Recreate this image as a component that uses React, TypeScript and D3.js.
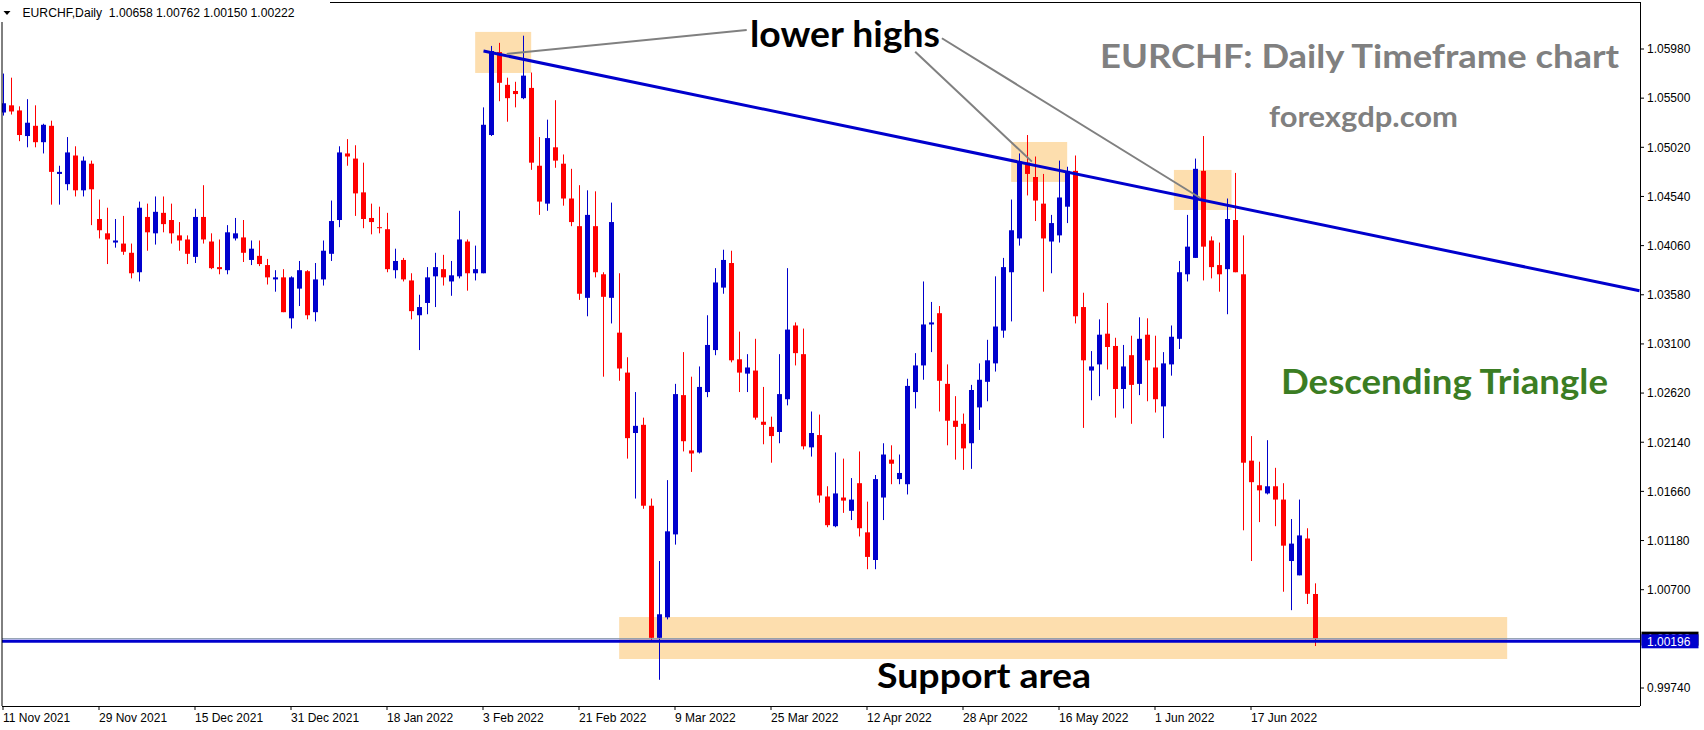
import * as d3 from 'd3';

// daily EURCHF bars, [open, high, low, close], first bar = 11 Nov 2021
const candles: [number, number, number, number][] = [
  [1.0536, 1.0574, 1.0533, 1.0545], [1.0543, 1.057, 1.0534, 1.0537], [1.0538, 1.0542, 1.0508, 1.0514],
  [1.0513, 1.0549, 1.0502, 1.0526], [1.0523, 1.0543, 1.0502, 1.0507], [1.0507, 1.0525, 1.0496, 1.0524],
  [1.0523, 1.0528, 1.0446, 1.0478], [1.0476, 1.0484, 1.0446, 1.0478], [1.0466, 1.0512, 1.046, 1.0497],
  [1.0494, 1.0503, 1.0454, 1.046], [1.046, 1.0493, 1.0454, 1.0489], [1.0486, 1.0489, 1.0426, 1.0461],
  [1.0432, 1.0451, 1.0413, 1.0421], [1.0418, 1.0443, 1.0388, 1.0412], [1.0409, 1.0432, 1.0404, 1.0411],
  [1.0408, 1.0435, 1.0397, 1.04], [1.0399, 1.0408, 1.0374, 1.0379], [1.038, 1.0449, 1.0371, 1.0443],
  [1.0434, 1.0447, 1.0401, 1.0419], [1.0418, 1.0454, 1.0407, 1.0439], [1.0438, 1.0454, 1.0419, 1.0427],
  [1.0431, 1.0447, 1.0408, 1.0418], [1.0416, 1.0429, 1.0401, 1.0411], [1.0412, 1.0416, 1.0388, 1.0398],
  [1.0395, 1.0442, 1.0389, 1.0434], [1.0434, 1.0465, 1.0408, 1.0412], [1.041, 1.0418, 1.0383, 1.0384],
  [1.0385, 1.0412, 1.0378, 1.0383], [1.0382, 1.0426, 1.0378, 1.0419], [1.0413, 1.0433, 1.0411, 1.0418],
  [1.0414, 1.0431, 1.039, 1.0399], [1.0392, 1.0411, 1.0387, 1.0403], [1.0396, 1.0411, 1.0386, 1.0388],
  [1.0387, 1.0393, 1.0368, 1.0375], [1.0373, 1.0382, 1.0361, 1.0375], [1.0375, 1.0383, 1.0341, 1.0341],
  [1.0335, 1.0376, 1.0325, 1.0375], [1.0364, 1.0391, 1.0347, 1.0382], [1.0381, 1.0382, 1.0334, 1.0338],
  [1.0341, 1.0389, 1.0332, 1.0373], [1.0373, 1.0411, 1.0367, 1.0401], [1.0398, 1.045, 1.0391, 1.043],
  [1.0431, 1.0503, 1.0424, 1.0497], [1.0496, 1.051, 1.0484, 1.0493], [1.0491, 1.0504, 1.0435, 1.0457],
  [1.0458, 1.0487, 1.0423, 1.0432], [1.0433, 1.0447, 1.0417, 1.0429], [1.0424, 1.0444, 1.0418, 1.0423],
  [1.0422, 1.0438, 1.038, 1.0383], [1.0382, 1.0403, 1.0374, 1.0391], [1.0392, 1.0394, 1.0371, 1.0373],
  [1.0372, 1.0379, 1.0334, 1.0342], [1.0338, 1.0358, 1.0304, 1.0346], [1.035, 1.0385, 1.0339, 1.0375],
  [1.0376, 1.0399, 1.0346, 1.0385], [1.0383, 1.0397, 1.0367, 1.0375], [1.0371, 1.0391, 1.0357, 1.0377],
  [1.0376, 1.044, 1.0374, 1.0412], [1.041, 1.0412, 1.0362, 1.0379], [1.0379, 1.0406, 1.0372, 1.0383],
  [1.0379, 1.0541, 1.0379, 1.0524], [1.0514, 1.0601, 1.0513, 1.0596], [1.0595, 1.0604, 1.0547, 1.0565],
  [1.0563, 1.057, 1.0527, 1.055], [1.0557, 1.0566, 1.0541, 1.0554], [1.055, 1.0611, 1.0549, 1.0572],
  [1.056, 1.0575, 1.048, 1.0487], [1.0484, 1.0512, 1.0436, 1.0449], [1.0447, 1.0529, 1.044, 1.0511],
  [1.0502, 1.0548, 1.0482, 1.0489], [1.0486, 1.0495, 1.0445, 1.0452], [1.0452, 1.0481, 1.0425, 1.0429],
  [1.0425, 1.0465, 1.0353, 1.0359], [1.0355, 1.046, 1.0337, 1.0436], [1.0425, 1.0459, 1.0375, 1.038],
  [1.0378, 1.038, 1.0278, 1.0356], [1.0355, 1.0448, 1.033, 1.0429], [1.0321, 1.0379, 1.0274, 1.0286],
  [1.0282, 1.0297, 1.0198, 1.0218], [1.0223, 1.0263, 1.0159, 1.023], [1.0231, 1.0238, 1.0149, 1.0152],
  [1.0152, 1.0159, 1.0021, 1.0023], [1.0023, 1.0098, 0.9982, 1.0046], [1.0043, 1.0177, 1.0041, 1.0127],
  [1.0124, 1.0271, 1.0114, 1.0261], [1.026, 1.0302, 1.0205, 1.0215], [1.0206, 1.0278, 1.0185, 1.0203],
  [1.0204, 1.0288, 1.0203, 1.0268], [1.0263, 1.0338, 1.0258, 1.0309], [1.0304, 1.0384, 1.0299, 1.037],
  [1.0365, 1.0402, 1.0359, 1.0392], [1.0389, 1.0401, 1.0292, 1.0294], [1.0295, 1.0322, 1.0263, 1.0282],
  [1.0281, 1.03, 1.0263, 1.0287], [1.0284, 1.0315, 1.0236, 1.0238], [1.0234, 1.0268, 1.0212, 1.0231],
  [1.0229, 1.0239, 1.0194, 1.022], [1.0224, 1.03, 1.0213, 1.0261], [1.0256, 1.0384, 1.025, 1.0324],
  [1.0328, 1.0331, 1.0289, 1.0301], [1.03, 1.0325, 1.0207, 1.021], [1.0209, 1.0244, 1.02, 1.0223],
  [1.0221, 1.0241, 1.0155, 1.0162], [1.0161, 1.0171, 1.0131, 1.0133], [1.0132, 1.0204, 1.0131, 1.0164],
  [1.016, 1.0198, 1.0145, 1.0157], [1.0147, 1.0179, 1.0138, 1.0158], [1.0174, 1.0205, 1.0122, 1.013],
  [1.0126, 1.0156, 1.009, 1.0102], [1.0099, 1.0182, 1.009, 1.0178], [1.016, 1.0213, 1.0138, 1.0202],
  [1.0197, 1.0211, 1.0173, 1.0193], [1.0178, 1.0202, 1.0173, 1.0184], [1.0173, 1.0276, 1.0163, 1.0269],
  [1.0263, 1.0301, 1.0247, 1.0289], [1.0289, 1.0371, 1.0275, 1.0329], [1.0329, 1.0351, 1.0302, 1.0331],
  [1.034, 1.0347, 1.0244, 1.0274], [1.0271, 1.029, 1.0211, 1.0235], [1.0235, 1.0259, 1.0197, 1.0229],
  [1.0232, 1.0242, 1.0187, 1.0208], [1.0213, 1.027, 1.0188, 1.0265], [1.0248, 1.0291, 1.0226, 1.0275],
  [1.0273, 1.0314, 1.0254, 1.0294], [1.0291, 1.0376, 1.0283, 1.0327], [1.0323, 1.0394, 1.0316, 1.0385],
  [1.038, 1.0451, 1.0332, 1.0421], [1.0413, 1.0496, 1.0406, 1.0488], [1.0487, 1.0514, 1.0455, 1.0476],
  [1.0473, 1.0493, 1.043, 1.045], [1.0447, 1.0476, 1.0361, 1.0413], [1.041, 1.0436, 1.0379, 1.0428],
  [1.0416, 1.0489, 1.0409, 1.0453], [1.0444, 1.0483, 1.0428, 1.0479], [1.0479, 1.0494, 1.033, 1.0337],
  [1.0346, 1.036, 1.0228, 1.0294], [1.0284, 1.0303, 1.0255, 1.0288], [1.029, 1.0334, 1.0259, 1.0319],
  [1.032, 1.035, 1.0285, 1.0307], [1.0308, 1.0316, 1.0238, 1.0266], [1.0266, 1.0309, 1.0247, 1.0288],
  [1.0299, 1.0318, 1.0232, 1.027], [1.0271, 1.0336, 1.026, 1.0315], [1.0319, 1.0335, 1.0254, 1.0294],
  [1.0287, 1.0318, 1.0243, 1.0256], [1.0249, 1.0302, 1.0218, 1.0291], [1.029, 1.0328, 1.0279, 1.0317],
  [1.0315, 1.0391, 1.0305, 1.038], [1.0378, 1.0436, 1.0371, 1.0405], [1.0394, 1.0491, 1.0394, 1.0481],
  [1.0479, 1.0513, 1.0372, 1.0405], [1.0411, 1.0415, 1.0374, 1.0385], [1.0387, 1.0409, 1.0361, 1.0378],
  [1.0383, 1.0452, 1.0339, 1.0432], [1.0431, 1.0477, 1.038, 1.038], [1.0378, 1.0416, 1.0128, 1.0194],
  [1.0196, 1.022, 1.0098, 1.0175], [1.0172, 1.0195, 1.0136, 1.0167], [1.0164, 1.0216, 1.0163, 1.0171],
  [1.0171, 1.0189, 1.0132, 1.0158], [1.0158, 1.0174, 1.0068, 1.0113], [1.0098, 1.0139, 1.005, 1.0115],
  [1.0084, 1.0158, 1.0084, 1.0123], [1.012, 1.013, 1.0056, 1.0066], [1.00658, 1.00762, 1.0015, 1.00222],
];

const dateLabels = [
  '11 Nov 2021', '29 Nov 2021', '15 Dec 2021', '31 Dec 2021', '18 Jan 2022', '3 Feb 2022', '21 Feb 2022',
  '9 Mar 2022', '25 Mar 2022', '12 Apr 2022', '28 Apr 2022', '16 May 2022', '1 Jun 2022', '17 Jun 2022',
];
const barsPerLabel = 12;

const priceTicks = [
  1.0598, 1.055, 1.0502, 1.0454, 1.0406, 1.0358, 1.031, 1.0262, 1.0214, 1.0166, 1.0118, 1.007, 0.9974,
];

const supportLevel = 1.00196;
const bidLevel = 1.00222;

// annotations in [bar index, price]
const trendLine: [number, number][] = [[60, 1.0596], [204.5, 1.0362]];
const supportZone = { from: 76.96, to: 187.96, low: 1.00023, high: 1.00433 };
const highBoxes = [
  { from: 58.96, to: 65.96, low: 1.05746, high: 1.06147 },
  { from: 125.96, to: 132.96, low: 1.04682, high: 1.05072 },
  { from: 146.3, to: 153.5, low: 1.04408, high: 1.04799 },
];
const pointerLines: [number, number][][] = [
  [[62.9, 1.05932], [92.9, 1.06166]],
  [[113.96, 1.05954], [128.55, 1.0488]],
  [[117.3, 1.06085], [149.6, 1.04525]],
];

const W = 1704;
const H = 730;
const left = 2;
const right = 1640;
const bottom = 706;

const BULL = '#0000CD';
const BEAR = '#FF0000';
const axisFont = 'Liberation Sans, Arial, sans-serif';
const noteFont = 'Lato, "Open Sans", sans-serif';

export default function App() {
  const x = d3.scaleLinear().domain([0, 204.5]).range([3.5, 1639.5]);
  const y = d3.scaleLinear().domain([0.9974, 1.0598]).range([688, 49]);

  const last = candles[candles.length - 1];
  const header = `EURCHF,Daily  ${last.map(v => v.toFixed(5)).join(' ')}`;
  const line = d3.line<[number, number]>().x(d => x(d[0])).y(d => y(d[1]));

  const rectOf = (b: { from: number; to: number; low: number; high: number }) => ({
    x: x(b.from),
    y: y(b.high),
    width: x(b.to) - x(b.from),
    height: y(b.low) - y(b.high),
  });

  return (
    <svg width={W} height={H} style={{ position: 'absolute', left: 0, top: 0, background: '#fff' }}>
      <defs>
        <clipPath id="plot">
          <rect x={left} y={2} width={right - left} height={bottom - 2} />
        </clipPath>
      </defs>
      <rect x={0} y={0} width={W} height={H} fill="#fff" />

      <g clipPath="url(#plot)">
        <rect {...rectOf(supportZone)} fill="#FDDEAE" />
        {highBoxes.map((b, i) => (
          <rect key={i} {...rectOf(b)} fill="#FDDEAE" />
        ))}

        {candles.map(([o, h, l, c], i) => {
          const xc = x(i);
          const col = c >= o ? BULL : BEAR;
          const top = Math.min(y(o), y(c));
          const hgt = Math.max(1, Math.abs(y(o) - y(c)));
          return (
            <g key={i}>
              <line x1={xc} x2={xc} y1={y(h)} y2={y(l)} stroke={col} strokeWidth={1} />
              <rect x={xc - 2.5} y={top} width={5} height={hgt} fill={col} />
            </g>
          );
        })}

        <line x1={left} x2={right} y1={y(bidLevel)} y2={y(bidLevel)} stroke="#8898aa" strokeWidth={1} />
        <line x1={left} x2={right} y1={y(supportLevel)} y2={y(supportLevel)} stroke={BULL} strokeWidth={3} />
        <path d={line(trendLine) ?? ''} fill="none" stroke={BULL} strokeWidth={3} />
        {pointerLines.map((pl, i) => (
          <path key={i} d={line(pl) ?? ''} fill="none" stroke="#808080" strokeWidth={2} />
        ))}
      </g>

      {/* frame */}
      <line x1={left} x2={left} y1={22} y2={bottom} stroke="#000" />
      <line x1={330} x2={right} y1={2.5} y2={2.5} stroke="#000" />
      <line x1={left} x2={right} y1={bottom + 0.5} y2={bottom + 0.5} stroke="#000" />
      <line x1={right + 0.5} x2={right + 0.5} y1={2} y2={bottom} stroke="#000" />

      {/* header */}
      <path d="M3.5,11 L10.5,11 L7,15 Z" fill="#000" />
      <text
        x={22.5}
        y={16.5}
        fontFamily={axisFont}
        fontSize={12}
        textLength={272}
        lengthAdjust="spacingAndGlyphs"
        style={{ whiteSpace: 'pre' }}
      >
        {header}
      </text>

      {/* price axis */}
      {priceTicks.map(p => (
        <g key={p}>
          <line x1={right} x2={right + 4} y1={y(p)} y2={y(p)} stroke="#000" />
          <text x={1647} y={y(p) + 4.3} fontFamily={axisFont} fontSize={12} fill="#000">
            {p.toFixed(5)}
          </text>
        </g>
      ))}
      <rect x={1641.5} y={y(bidLevel) - 7} width={57} height={14} fill="#000" />
      <text x={1647} y={y(bidLevel) + 4.3} fontFamily={axisFont} fontSize={12} fill="#fff">
        {bidLevel.toFixed(5)}
      </text>
      <rect x={1641.5} y={y(supportLevel) - 7} width={57} height={14} fill={BULL} />
      <text x={1647} y={y(supportLevel) + 4.3} fontFamily={axisFont} fontSize={12} fill="#fff">
        {supportLevel.toFixed(5)}
      </text>

      {/* time axis */}
      {dateLabels.map((d, k) => {
        const tx = x(k * barsPerLabel) - 0.5;
        return (
          <g key={d}>
            <line x1={tx} x2={tx} y1={bottom} y2={bottom + 4} stroke="#000" />
            <text x={tx} y={722} fontFamily={axisFont} fontSize={12} fill="#000">
              {d}
            </text>
          </g>
        );
      })}

      {/* annotations */}
      <text x={750} y={47} fontFamily={noteFont} fontWeight={700} fontSize={36} textLength={190} lengthAdjust="spacingAndGlyphs" fill="#000">
        lower highs
      </text>
      <text x={1100} y={68} fontFamily={noteFont} fontWeight={700} fontSize={33} textLength={519} lengthAdjust="spacingAndGlyphs" fill="#808080">
        EURCHF: Daily Timeframe chart
      </text>
      <text x={1269} y={127} fontFamily={noteFont} fontWeight={700} fontSize={29} textLength={189} lengthAdjust="spacingAndGlyphs" fill="#808080">
        forexgdp.com
      </text>
      <text x={1281} y={394} fontFamily={noteFont} fontWeight={700} fontSize={35} textLength={327} lengthAdjust="spacingAndGlyphs" fill="#3B7D23">
        Descending Triangle
      </text>
      <text x={877} y={688} fontFamily={noteFont} fontWeight={700} fontSize={35} textLength={214} lengthAdjust="spacingAndGlyphs" fill="#000">
        Support area
      </text>
    </svg>
  );
}
